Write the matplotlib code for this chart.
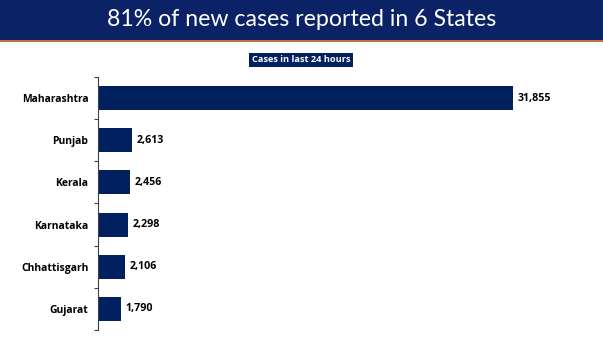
import numpy as np
from matplotlib import pyplot as plt
from matplotlib.patches import Rectangle

# states and cases reported in the last 24 hours
states = ['Maharashtra', 'Punjab', 'Kerala', 'Karnataka', 'Chhattisgarh', 'Gujarat']
cases = [31855, 2613, 2456, 2298, 2106, 1790]

title = '81% of new cases reported in 6 States'
badge = 'Cases in last 24 hours'

navy = '#002060'

fig = plt.figure(figsize=(6.03, 3.39), dpi=100)
W, H = 603.0, 339.0

#------------------------------------------------------------------------------
# Header band
#------------------------------------------------------------------------------
fig.patches.append(Rectangle((0, 1 - 40 / H), 1, 40 / H, transform=fig.transFigure,
                             facecolor='#0b2366', edgecolor='none', zorder=0))
fig.patches.append(Rectangle((0, 1 - 42 / H), 1, 2 / H, transform=fig.transFigure,
                             facecolor='#c0703a', edgecolor='none', zorder=0))
fig.text(0.5, 1 - 20 / H, title, color='white', fontsize=16.7, family='Lato',
         ha='center', va='center')

fig.text(301 / W, 1 - 60 / H, badge, color='white', fontsize=6.7, family='Open Sans',
         fontweight='bold', ha='center', va='center',
         bbox=dict(boxstyle='square,pad=0.25', facecolor=navy, edgecolor='none'))

#------------------------------------------------------------------------------
# Bars
#------------------------------------------------------------------------------
ax = fig.add_axes([98 / W, 1 - 330 / H, 470 / W, 253 / H])
y = np.arange(len(states))
ax.barh(y, cases, height=0.57, color=navy)
ax.set_ylim(len(states) - 0.5, -0.5)
ax.set_xlim(0, 470 * 76.75)

for yi, v in zip(y, cases):
    ax.text(v + 350, yi, f'{v:,}', va='center', ha='left', fontsize=7.7,
            family='Open Sans', fontweight='bold', color='black')

ax.set_yticks(y)
ax.set_yticklabels(states, family='Open Sans', fontweight='bold', fontsize=7.5)
ax.tick_params(axis='y', which='major', length=0, pad=7)
ax.set_yticks(np.arange(-0.5, len(states)), minor=True)
ax.tick_params(axis='y', which='minor', length=3, width=0.8, color='#404040', direction='out')
ax.set_xticks([])
for s in ['top', 'right', 'bottom']:
    ax.spines[s].set_visible(False)
ax.spines['left'].set_color('#404040')
ax.spines['left'].set_linewidth(0.8)

fig.savefig('out.png', dpi=100)
